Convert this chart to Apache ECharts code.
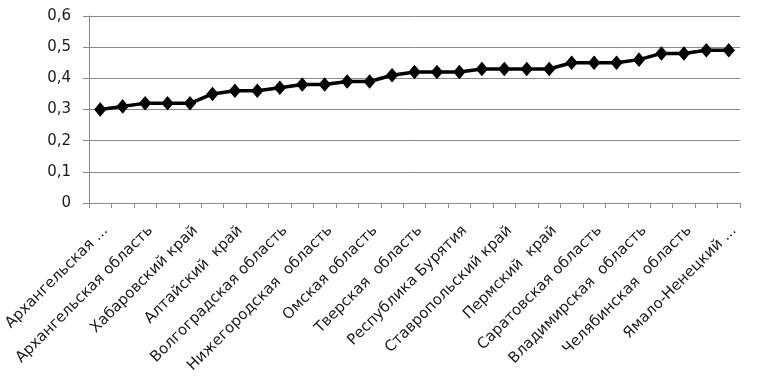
<!DOCTYPE html>
<html>
<head>
<meta charset="utf-8">
<script src="https://cdn.jsdelivr.net/npm/echarts@6/dist/echarts.min.js"></script>
<style>
    html, body { margin: 0; padding: 0; background: #fff; }
    #chart { width: 766px; height: 388px; }
</style>
</head>
<body>
<div id="chart"></div>
<script>
    // подписи видны через одну, скрытые оставлены пустыми
    var regions = [
        'Архангельская ...', '', 'Архангельская область', '', 'Хабаровский край', '',
        'Алтайский  край', '', 'Волгоградская область', '', 'Нижегородская  область', '',
        'Омская область', '', 'Тверская  область', '', 'Республика Бурятия', '',
        'Ставропольский край', '', 'Пермский  край', '', 'Саратовская область', '',
        'Владимирская  область', '', 'Челябинская  область', '', 'Ямало-Ненецкий ...'
    ]
    var values = [
        0.30, 0.31, 0.32, 0.32, 0.32, 0.35, 0.36, 0.36, 0.37, 0.38,
        0.38, 0.39, 0.39, 0.41, 0.42, 0.42, 0.42, 0.43, 0.43, 0.43,
        0.43, 0.45, 0.45, 0.45, 0.46, 0.48, 0.48, 0.49, 0.49
    ]
    var yMin = 0, yMax = 0.6, yStep = 0.1

    var lineColor = '#8a8a8a'
    var myChart = echarts.init(document.getElementById('chart'))
    var option = {
        animation: false,
        grid: {
            left: 89,
            right: 26,
            top: 16,
            bottom: 185,
            outerBoundsMode: 'none'
        },
        xAxis: {
            type: 'category',
            data: regions,
            boundaryGap: true,
            axisLine: { lineStyle: { color: lineColor, width: 1 } },
            axisTick: { show: true, interval: 0, length: 5, lineStyle: { color: lineColor } },
            axisLabel: {
                interval: 0,
                rotate: 45,
                margin: 20,
                verticalAlign: 'top',
                color: '#1a1a1a',
                fontFamily: 'DejaVu Sans',
                fontSize: 15
            }
        },
        yAxis: {
            type: 'value',
            min: yMin,
            max: yMax,
            interval: yStep,
            axisLine: { show: true, lineStyle: { color: lineColor, width: 1 } },
            axisTick: { show: true, length: 6, inside: false, lineStyle: { color: lineColor } },
            splitLine: { show: true, lineStyle: { color: lineColor, width: 1 } },
            axisLabel: {
                margin: 18,
                color: '#1a1a1a',
                fontFamily: 'DejaVu Sans',
                fontSize: 15,
                formatter: function (v) {
                    return String(Math.round(v * 10) / 10).replace('.', ',')
                }
            }
        },
        series: [{
            type: 'line',
            data: values,
            symbol: 'diamond',
            symbolSize: [11, 13],
            showAllSymbol: true,
            lineStyle: { color: '#000', width: 3.5 },
            itemStyle: { color: '#000', borderColor: '#000', borderWidth: 1 }
        }]
    }
    myChart.setOption(option)
</script>
</body>
</html>
